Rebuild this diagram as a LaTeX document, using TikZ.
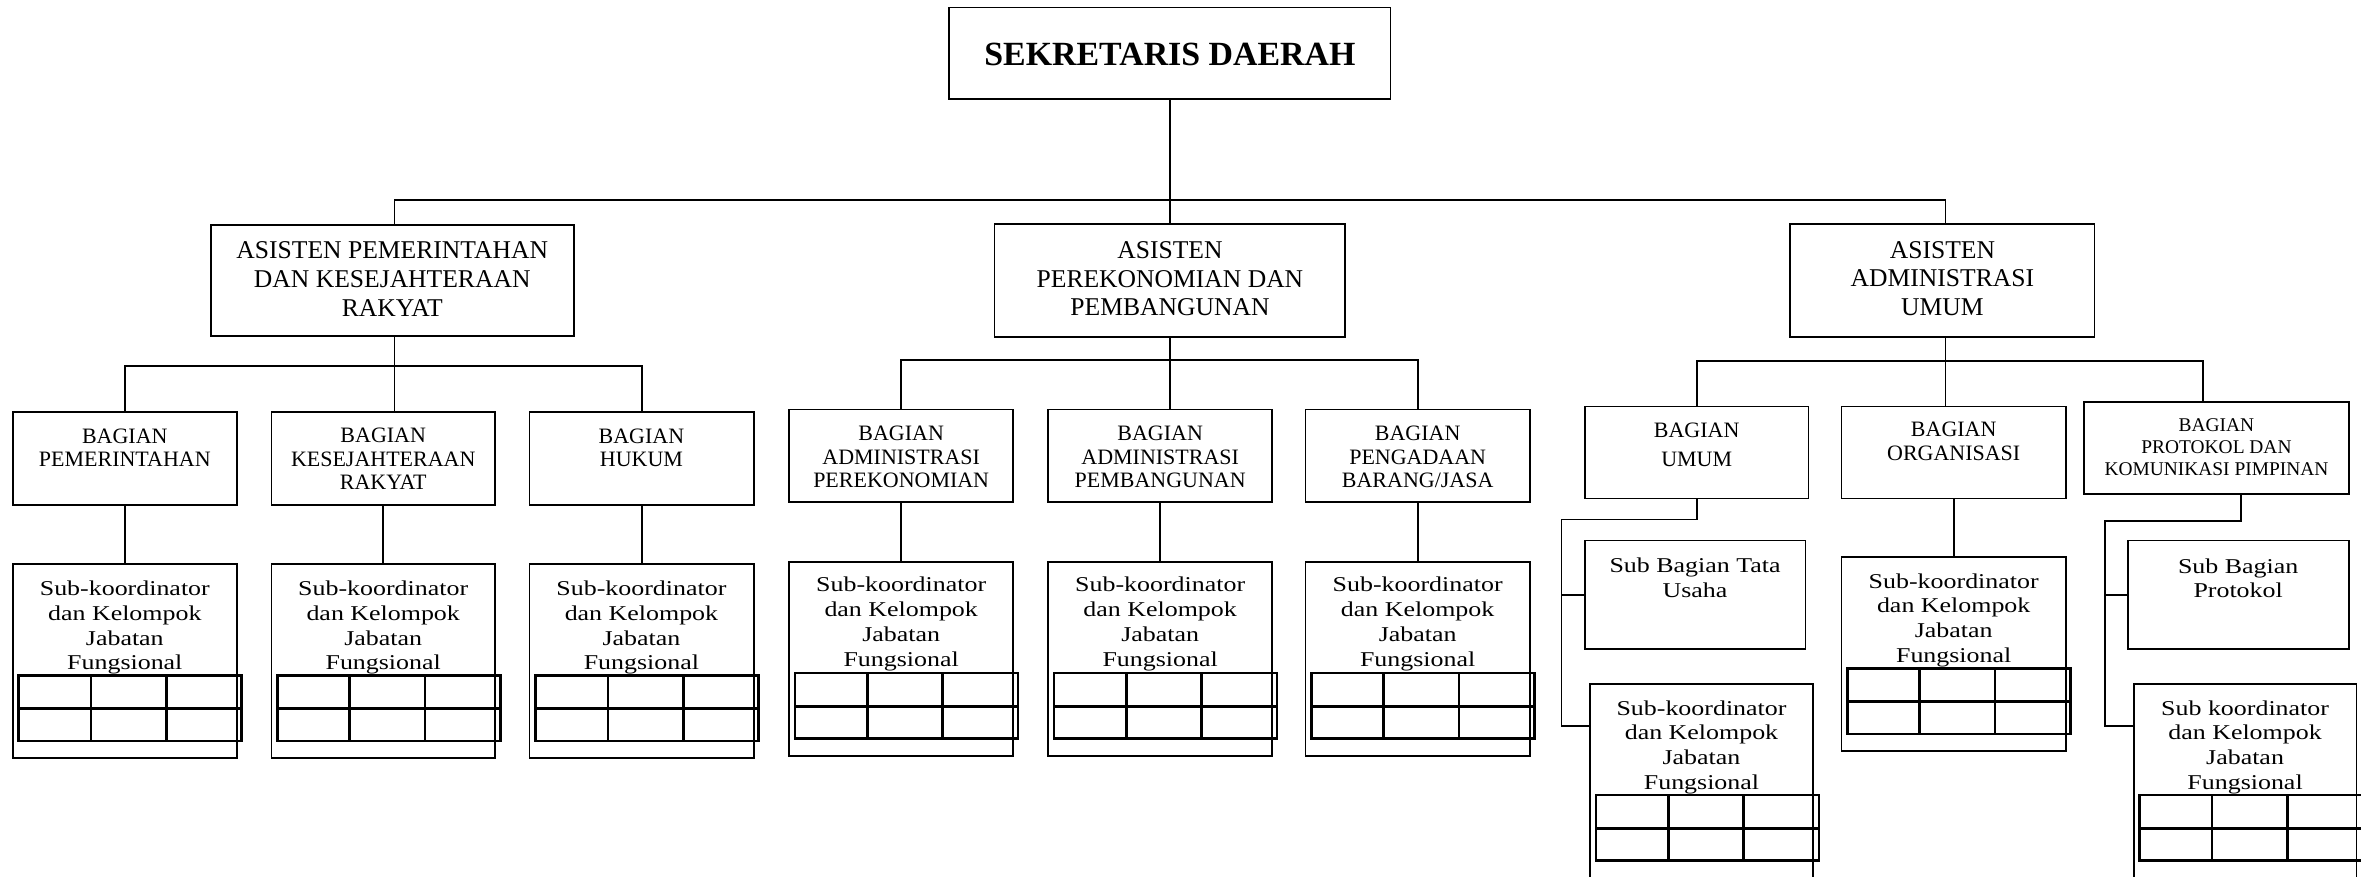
\documentclass[tikz,border=0pt]{standalone}
\usepackage{fontspec}
\setmainfont{Liberation Serif}
\newfontfamily\widefont[FakeStretch=1.23]{Liberation Serif}
\usetikzlibrary{calc}
\newcommand\fsd{\fontsize{22.5}{27}\selectfont\bfseries}
\newcommand\fas{\fontsize{17}{19}\selectfont}
\newcommand\fbg{\fontsize{14.6}{15.5}\selectfont}
\newcommand\fbgu{\fontsize{14.6}{19.4}\selectfont}
\newcommand\fbgo{\fontsize{14.6}{15.8}\selectfont}
\newcommand\fbgp{\fontsize{12.9}{14.6}\selectfont}
\newcommand\fsub{\widefont\fontsize{14}{16.5}\selectfont}
\newcommand\orgbox[5]{\node[box,minimum width={#4-#2},minimum height={#5-#3}] (#1) at ({(#2+#4)/2},{(#3+#5)/2}) {};}
\begin{document}
\begin{tikzpicture}[x=1pt,y=-1pt,
  box/.style={draw,line width=1.2pt,inner sep=0,outer sep=0},
  conn/.style={draw,line width=1.25pt},
  txt/.style={align=center,inner sep=0},
  jtab/.pic={\draw[line width=1.8pt] (0,0) rectangle (148,43.5)
     (0,22) -- (148,22) (48,0) -- (48,43.5) (98,0) -- (98,43.5);}]
\useasboundingbox (0,0) rectangle (1568,582);
\clip (0,0) rectangle (1568,582);

% boxes
\orgbox{sd}{630.5}{5}{923.5}{66}
\orgbox{a1}{140}{149.5}{381}{223}
\orgbox{a2}{660.5}{149}{893.5}{224}
\orgbox{a3}{1189}{149}{1391}{223.6}
\orgbox{b1}{8.5}{273.6}{157.2}{335.2}
\orgbox{b2}{180.3}{273.6}{328.7}{335.2}
\orgbox{b3}{351.7}{273.6}{500.5}{335.2}
\orgbox{s1}{8.5}{374.6}{157.2}{503.6}
\orgbox{s2}{180.3}{374.6}{328.7}{503.6}
\orgbox{s3}{351.7}{374.6}{500.5}{503.6}
\orgbox{b4}{524}{272}{673}{333.4}
\orgbox{b5}{696}{272}{845}{333.4}
\orgbox{b6}{867}{272}{1016}{333.4}
\orgbox{s4}{524}{373}{673}{502}
\orgbox{s5}{696}{373}{845}{502}
\orgbox{s6}{867}{373}{1016}{502}
\orgbox{b7}{1052.5}{270}{1201}{331}
\orgbox{b8}{1223}{270}{1372}{331}
\orgbox{b9}{1384}{267}{1560}{328}
\orgbox{tu}{1052.5}{359}{1199}{431}
\orgbox{s7}{1056}{454}{1204}{600}
\orgbox{s8}{1223}{370}{1372}{499}
\orgbox{sp}{1413}{359}{1560}{431}
\orgbox{s9}{1417}{454}{1565}{600}

% tables
\foreach \s in {s1,s2,s3,s4,s5,s6,s7,s8,s9}
  \pic at ($(\s.north west)+(4,74)$) {jtab};

% connectors
\coordinate (bus0) at (777,133);
\draw[conn] (sd.south) -- (bus0);
\draw[conn] ([xshift=1.5pt]a1.north) |- (bus0) -| ([xshift=2pt]a3.north);
\draw[conn] (bus0) -- (a2.north);

\coordinate (bus1) at (262,243);
\draw[conn] ([xshift=1.5pt]a1.south) -- ([xshift=1.5pt]a1.south |- b2.north);
\draw[conn] (b1.north) |- (bus1) -| (b3.north);
\draw[conn] (b1) -- (s1);
\draw[conn] (b2) -- (s2);
\draw[conn] (b3) -- (s3);

\coordinate (bus2) at (777,239);
\draw[conn] (a2.south) -- (a2.south |- b5.north);
\draw[conn] (b4.north) |- (bus2) -| (b6.north);
\draw[conn] (b4) -- (s4);
\draw[conn] (b5) -- (s5);
\draw[conn] (b6) -- (s6);

\coordinate (bus3) at (1292,240);
\draw[conn] ([xshift=2pt]a3.south) -- ([xshift=2pt]a3.south |- b8.north);
\draw[conn] (b7.north) |- (bus3) -| ([xshift=-9pt]b9.north);
\draw[conn] (b8) -- (s8);

\coordinate (u1) at (1037,345);
\draw[conn] (b7.south) |- (u1) |- ([yshift=-28pt]s7.north west);
\draw[conn] (u1 |- tu.west) -- (tu.west);

\coordinate (p1) at (1398,346);
\draw[conn] ([xshift=16pt]b9.south) |- (p1) |- ([yshift=-28pt]s9.north west);
\draw[conn] (p1 |- sp.west) -- (sp.west);

% texts
\node[txt,font=\fsd] (sdt) at (777,36) {SEKRETARIS DAERAH};
\node[txt,font=\fas] (a1t) at (260.5,185.3) {ASISTEN PEMERINTAHAN\\DAN KESEJAHTERAAN\\RAKYAT};
\node[txt,font=\fas] (a2t) at (777,185.3) {ASISTEN\\PEREKONOMIAN DAN\\PEMBANGUNAN};
\node[txt,font=\fas] (a3t) at (1290,185) {ASISTEN\\ADMINISTRASI\\UMUM};

\node[txt,font=\fbg] (b1t) at (82.9,297.2) {BAGIAN\\PEMERINTAHAN};
\node[txt,font=\fbg] (b2t) at (254.5,304.7) {BAGIAN\\KESEJAHTERAAN\\RAKYAT};
\node[txt,font=\fbg] (b3t) at (426,297.2) {BAGIAN\\HUKUM};
\node[txt,font=\fbg] (b4t) at (598.5,303.6) {BAGIAN\\ADMINISTRASI\\PEREKONOMIAN};
\node[txt,font=\fbg] (b5t) at (770.5,303.6) {BAGIAN\\ADMINISTRASI\\PEMBANGUNAN};
\node[txt,font=\fbg] (b6t) at (941.5,303.6) {BAGIAN\\PENGADAAN\\BARANG/JASA};
\node[txt,font=\fbgu] (b7t) at (1126.8,295.3) {BAGIAN\\UMUM};
\node[txt,font=\fbgo] (b8t) at (1297.5,293) {BAGIAN\\ORGANISASI};
\node[txt,font=\fbgp] (b9t) at (1472,297) {BAGIAN\\PROTOKOL DAN\\KOMUNIKASI PIMPINAN};

\node[txt,font=\fsub] (s1t) at (82.9,416.8) {Sub-koordinator\\dan Kelompok\\Jabatan\\Fungsional};
\node[txt,font=\fsub] (s2t) at (254.5,416.8) {Sub-koordinator\\dan Kelompok\\Jabatan\\Fungsional};
\node[txt,font=\fsub] (s3t) at (426,416.8) {Sub-koordinator\\dan Kelompok\\Jabatan\\Fungsional};
\node[txt,font=\fsub] (s4t) at (598.5,414.5) {Sub-koordinator\\dan Kelompok\\Jabatan\\Fungsional};
\node[txt,font=\fsub] (s5t) at (770.5,414.5) {Sub-koordinator\\dan Kelompok\\Jabatan\\Fungsional};
\node[txt,font=\fsub] (s6t) at (941.5,414.5) {Sub-koordinator\\dan Kelompok\\Jabatan\\Fungsional};
\node[txt,font=\fsub] (s8t) at (1297.5,412) {Sub-koordinator\\dan Kelompok\\Jabatan\\Fungsional};
\node[txt,font=\fsub] (s7t) at (1130,496.3) {Sub-koordinator\\dan Kelompok\\Jabatan\\Fungsional};
\node[txt,font=\fsub] (s9t) at (1491,496.3) {Sub koordinator\\dan Kelompok\\Jabatan\\Fungsional};
\node[txt,font=\fsub] (tut) at (1125.7,383.5) {Sub Bagian Tata\\Usaha};
\node[txt,font=\fsub] (spt) at (1486.4,384) {Sub Bagian\\Protokol};
\end{tikzpicture}
\end{document}
